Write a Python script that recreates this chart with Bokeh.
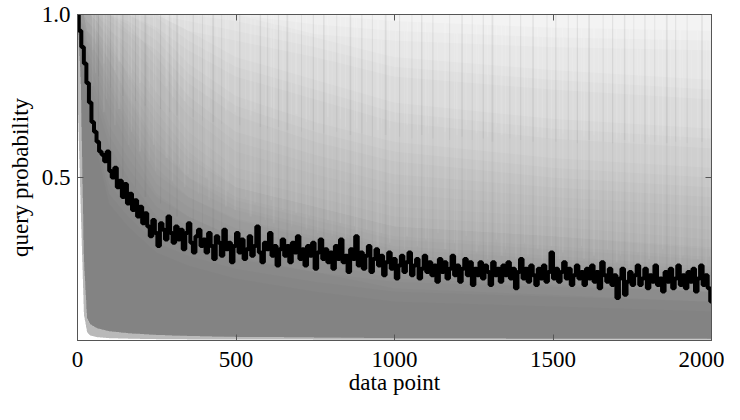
import numpy as np
from bokeh.plotting import figure
from bokeh.models import LinearAxis, FixedTicker, PrintfTickFormatter
from bokeh.embed import file_html
from bokeh.resources import INLINE

# ---- mean query probability (black line), one value every 8 data points ----
step_x = list(range(0, 2001, 8))
mean_prob = [
    1.00, 0.95, 0.90, 0.85, 0.79, 0.73, 0.67, 0.64, 0.61, 0.58,
    0.57, 0.55, 0.58, 0.52, 0.50, 0.53, 0.47, 0.49, 0.44, 0.48,
    0.42, 0.45, 0.40, 0.43, 0.38, 0.41, 0.36, 0.39, 0.35, 0.32,
    0.37, 0.33, 0.29, 0.36, 0.34, 0.31, 0.38, 0.33, 0.30, 0.35,
    0.31, 0.34, 0.28, 0.33, 0.36, 0.30, 0.27, 0.32, 0.34, 0.29,
    0.31, 0.27, 0.33, 0.29, 0.25, 0.32, 0.30, 0.26, 0.34, 0.28,
    0.30, 0.24, 0.29, 0.33, 0.27, 0.31, 0.25, 0.28, 0.32, 0.26,
    0.29, 0.35, 0.27, 0.24, 0.30, 0.28, 0.33, 0.26, 0.29, 0.23,
    0.28, 0.31, 0.26, 0.29, 0.24, 0.30, 0.27, 0.32, 0.25, 0.28,
    0.23, 0.29, 0.26, 0.30, 0.22, 0.27, 0.31, 0.25, 0.28, 0.24,
    0.27, 0.22, 0.29, 0.25, 0.31, 0.24, 0.26, 0.21, 0.28, 0.25,
    0.32, 0.23, 0.27, 0.22, 0.26, 0.29, 0.21, 0.25, 0.28, 0.23,
    0.26, 0.20, 0.24, 0.27, 0.22, 0.25, 0.19, 0.23, 0.26, 0.21,
    0.24, 0.27, 0.20, 0.23, 0.25, 0.19, 0.22, 0.26, 0.21, 0.24,
    0.20, 0.23, 0.18, 0.25, 0.21, 0.24, 0.19, 0.22, 0.26, 0.20,
    0.23, 0.18, 0.22, 0.25, 0.20, 0.24, 0.17, 0.22, 0.20, 0.24,
    0.19, 0.23, 0.21, 0.17, 0.24, 0.20, 0.22, 0.18, 0.23, 0.20,
    0.24, 0.19, 0.22, 0.16, 0.21, 0.25, 0.19, 0.22, 0.18, 0.23,
    0.20, 0.17, 0.22, 0.19, 0.23, 0.18, 0.21, 0.27, 0.19, 0.22,
    0.18, 0.21, 0.24, 0.19, 0.22, 0.17, 0.20, 0.23, 0.19, 0.21,
    0.17, 0.22, 0.19, 0.23, 0.18, 0.21, 0.16, 0.24, 0.20, 0.18,
    0.22, 0.17, 0.20, 0.13, 0.19, 0.22, 0.14, 0.18, 0.21, 0.17,
    0.20, 0.23, 0.17, 0.19, 0.22, 0.16, 0.20, 0.18, 0.23, 0.17,
    0.19, 0.15, 0.21, 0.18, 0.22, 0.16, 0.19, 0.23, 0.17, 0.20,
    0.16, 0.21, 0.18, 0.22, 0.15, 0.19, 0.23, 0.17, 0.20, 0.16,
    0.12,
]

# ---- spread of the individual runs (grey density), read as brightness contours ----
dens_x = [0, 10, 20, 30, 40, 60, 100, 160, 250, 350, 500, 750, 1000, 1500, 2000]
lower_outer = [0.75, 0.40, 0.08, 0.025, 0.015, 0.010, 0.007, 0.005, 0.004, 0.003,
               0.003, 0.002, 0.002, 0.002, 0.002]
lower_inner = [1.00, 0.80, 0.25, 0.07, 0.05, 0.038, 0.028, 0.022, 0.017, 0.014,
               0.011, 0.009, 0.007, 0.006, 0.005]
level_1 = [1, 1, 1, 1, 1, 1, 1, 1, 1, 1, 1, 1, 1, 1, 1]
level_2 = [1, 1, 1, 1, 1, 1, 1, 1, 1, 1, 1, 0.97, 0.95, 0.93, 0.92]
level_3 = [1, 1, 1, 1, 1, 1, 1, 1, 1, 0.98, 0.95, 0.90, 0.84, 0.80, 0.77]
level_4 = [1, 1, 1, 1, 1, 1, 1, 1, 0.99, 0.92, 0.84, 0.77, 0.70, 0.65, 0.62]
level_5 = [1, 1, 1, 1, 1, 1, 1, 0.98, 0.92, 0.82, 0.72, 0.64, 0.58, 0.53, 0.50]
level_6 = [1, 1, 1, 1, 1, 1, 0.98, 0.94, 0.84, 0.72, 0.61, 0.54, 0.48, 0.44, 0.41]
level_7 = [1, 1, 1, 1, 1, 0.98, 0.93, 0.85, 0.73, 0.61, 0.50, 0.44, 0.38, 0.35, 0.31]
level_8 = [1, 1, 1, 0.98, 0.97, 0.95, 0.89, 0.78, 0.64, 0.53, 0.44, 0.38, 0.32, 0.29, 0.256]
level_9 = [1, 1, 1, 0.95, 0.94, 0.91, 0.83, 0.71, 0.56, 0.47, 0.40, 0.34, 0.28, 0.25, 0.217]
level_10 = [1, 0.98, 0.97, 0.92, 0.90, 0.85, 0.75, 0.63, 0.48, 0.41, 0.344, 0.29, 0.233, 0.205, 0.18]
level_11 = [1, 0.95, 0.93, 0.87, 0.82, 0.76, 0.63, 0.53, 0.41, 0.35, 0.287, 0.24, 0.19, 0.17, 0.149]
level_12 = [1, 0.88, 0.85, 0.77, 0.70, 0.62, 0.45, 0.38, 0.30, 0.26, 0.22, 0.18, 0.15, 0.135, 0.12]

# ---- individual runs that stand out as lighter / darker vertical streaks ----
light_streak_x = [
    48, 57, 83, 91, 118, 131, 162, 170, 197, 226,
    240, 247, 281, 300, 322, 338, 349, 381, 407, 415,
    440, 468, 475, 497, 531, 546, 560, 592, 611, 619,
    648, 676, 690, 722, 731, 758, 790, 803, 829, 846,
    874, 881, 912, 947, 958, 985, 1002, 1031, 1040, 1072,
    1099, 1108, 1137, 1160, 1189, 1197, 1226, 1259, 1266, 1294,
    1321, 1338, 1350, 1383, 1410, 1421, 1452, 1466, 1495, 1520,
    1531, 1563, 1590, 1598, 1629, 1644, 1672, 1701, 1712, 1740,
    1768, 1777, 1803, 1832, 1846, 1870, 1901, 1910, 1938, 1957,
    1983, 1994,
]
light_streak_low = [
    0.78, 0.82, 0.70, 0.74, 0.66, 0.71, 0.60, 0.64, 0.58, 0.55,
    0.60, 0.52, 0.56, 0.49, 0.54, 0.47, 0.51, 0.45, 0.50, 0.43,
    0.47, 0.41, 0.46, 0.40, 0.44, 0.38, 0.42, 0.37, 0.43, 0.36,
    0.40, 0.35, 0.39, 0.34, 0.38, 0.33, 0.37, 0.32, 0.36, 0.31,
    0.35, 0.30, 0.34, 0.29, 0.33, 0.30, 0.35, 0.28, 0.32, 0.29,
    0.31, 0.27, 0.33, 0.28, 0.30, 0.26, 0.32, 0.27, 0.29, 0.25,
    0.31, 0.26, 0.28, 0.25, 0.30, 0.26, 0.28, 0.24, 0.29, 0.25,
    0.27, 0.23, 0.29, 0.25, 0.26, 0.23, 0.28, 0.24, 0.26, 0.22,
    0.27, 0.23, 0.25, 0.22, 0.28, 0.24, 0.23, 0.26, 0.22, 0.25,
    0.23, 0.26,
]
light_streak_w = [
    4, 3, 6, 3, 5, 8, 3, 4, 6, 3,
    5, 3, 7, 4, 3, 6, 4, 3, 8, 4,
    3, 6, 4, 5, 3, 7, 4, 3, 5, 6,
    4, 3, 7, 5, 3, 4, 6, 3, 5, 4,
    3, 6, 4, 8, 3, 5, 4, 3, 6, 4,
    5, 3, 4, 7, 3, 5, 4, 6, 3, 5,
    4, 7, 3, 5, 4, 3, 6, 4, 5, 3,
    6, 4, 3, 5, 7, 3, 4, 5, 3, 6,
    4, 3, 6, 4, 5, 3, 7, 4, 3, 5,
    4, 3,
]
dark_streak_x = [
    66, 104, 143, 183, 214, 262, 291, 314, 365, 394,
    428, 455, 512, 577, 600, 634, 662, 707, 744, 777,
    818, 861, 897, 930, 972, 1016, 1055, 1086, 1121, 1174,
    1213, 1245, 1280, 1309, 1364, 1398, 1437, 1481, 1509, 1548,
    1577, 1614, 1658, 1688, 1726, 1755, 1790, 1821, 1859, 1887,
    1923, 1970,
]
dark_streak_low = [
    0.62, 0.55, 0.50, 0.47, 0.44, 0.42, 0.40, 0.38, 0.37, 0.35,
    0.34, 0.33, 0.32, 0.31, 0.30, 0.31, 0.29, 0.28, 0.29, 0.27,
    0.28, 0.26, 0.27, 0.25, 0.26, 0.25, 0.24, 0.26, 0.24, 0.23,
    0.25, 0.23, 0.24, 0.22, 0.24, 0.23, 0.22, 0.24, 0.22, 0.23,
    0.21, 0.23, 0.22, 0.21, 0.23, 0.22, 0.21, 0.22, 0.21, 0.22,
    0.21, 0.22,
]
dark_streak_w = [
    4, 3, 5, 3, 6, 4, 3, 5, 4, 3,
    6, 3, 4, 5, 3, 4, 6, 3, 4, 5,
    3, 5, 4, 3, 6, 4, 3, 5, 4, 3,
    5, 3, 4, 6, 3, 4, 5, 3, 4, 3,
    4, 6, 3, 4, 5, 3, 4, 3, 6, 4,
    3, 5,
]

x_ticks = [0, 500, 1000, 1500, 2000]
y_ticks = [0.5, 1.0]

FONT = "Liberation Serif"
FRAME = "#555555"

# page has an 8px margin: the figure must fit into 724 x 404
p = figure(width=724, height=404, x_range=(0, 2000), y_range=(0, 1),
           output_backend="svg", toolbar_location=None,
           min_border_left=77, min_border_right=13, min_border_top=14, min_border_bottom=64)
p.background_fill_color = "white"
p.border_fill_color = "white"
p.outline_line_color = FRAME
p.outline_line_width = 1
p.grid.visible = False

bottom_ax = p.xaxis[0]
left_ax = p.yaxis[0]

# each contour level is drawn as three slightly offset translucent layers,
# which softens the edge between neighbouring grey levels
layer_alpha = 0.051
edge_blur = [0.03, 0.0, -0.03]
levels = [level_1, level_2, level_3, level_4, level_5, level_6,
          level_7, level_8, level_9, level_10, level_11, level_12]
for i, top in enumerate(levels):
    low = lower_outer if i < 6 else lower_inner
    for off in edge_blur:
        shifted = [min(1.0, max(lo, t + off)) if t < 1.0 else 1.0 for t, lo in zip(top, low)]
        p.varea(x=dens_x, y1=low, y2=shifted, fill_color="black",
                fill_alpha=layer_alpha / len(edge_blur) * 1.03)

# streaks: two overlapping bars each, so that their lower end fades
light_mid = [(v + 1.0) / 2 for v in light_streak_low]
dark_mid = [(v + 1.0) / 2 for v in dark_streak_low]
p.vbar(x=light_streak_x, bottom=light_streak_low, top=1.0, width=light_streak_w,
       fill_color="white", fill_alpha=0.07, line_color=None)
p.vbar(x=light_streak_x, bottom=light_mid, top=1.0, width=light_streak_w,
       fill_color="white", fill_alpha=0.07, line_color=None)
p.vbar(x=dark_streak_x, bottom=dark_streak_low, top=1.0, width=dark_streak_w,
       fill_color="black", fill_alpha=0.035, line_color=None)
p.vbar(x=dark_streak_x, bottom=dark_mid, top=1.0, width=dark_streak_w,
       fill_color="black", fill_alpha=0.035, line_color=None)

p.step(step_x, mean_prob, mode="center", line_color="black", line_width=4)

top_ax = LinearAxis()
right_ax = LinearAxis()
p.add_layout(top_ax, "above")
p.add_layout(right_ax, "right")

def style(ax, ticks, labels):
    ax.ticker = FixedTicker(ticks=ticks)
    ax.major_tick_in = 6
    ax.major_tick_out = 0
    ax.minor_tick_line_color = None
    ax.axis_line_color = FRAME
    ax.major_tick_line_color = FRAME
    ax.major_label_text_font = FONT
    if labels:
        ax.major_label_text_font_size = "23px"
        ax.major_label_text_color = "black"
    else:
        ax.major_label_text_font_size = "1px"
        ax.major_label_text_color = None
        ax.major_label_standoff = 0
    ax.axis_label_text_font = FONT
    ax.axis_label_text_font_size = "23px"
    ax.axis_label_text_font_style = "normal"
    ax.axis_label_text_color = "black"

style(bottom_ax, x_ticks, True)
style(top_ax, x_ticks, False)
style(left_ax, y_ticks, True)
style(right_ax, y_ticks, False)

bottom_ax.axis_label = "data point"
left_ax.axis_label = "query probability"
left_ax.formatter = PrintfTickFormatter(format="%.1f")
bottom_ax.major_label_standoff = 11
left_ax.major_label_standoff = 7
bottom_ax.axis_label_standoff = 0
left_ax.axis_label_standoff = 6

open("out.html", "w").write(file_html(p, INLINE))
